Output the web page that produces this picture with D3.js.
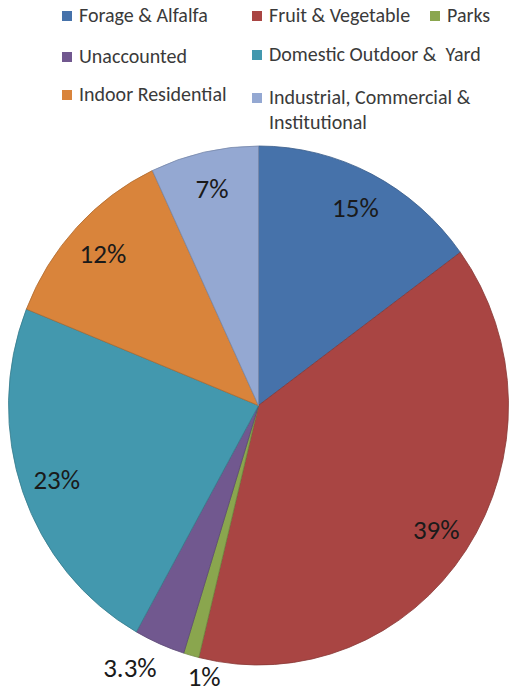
<!DOCTYPE html>
<html>
<head>
<meta charset="utf-8">
<script src="https://cdn.jsdelivr.net/npm/d3@7/dist/d3.min.js"></script>
<style>
  html, body { margin: 0; padding: 0; background: #fff; }
  svg { display: block; }
  text { font-family: Carlito, Calibri, Lato, "Open Sans", sans-serif; }
</style>
</head>
<body>
<svg id="chart" width="510" height="693"></svg>
<script>
// Water use by category (percent of total)
const categories = [
  "Forage & Alfalfa",
  "Fruit & Vegetable",
  "Parks",
  "Unaccounted",
  "Domestic Outdoor & Yard",
  "Indoor Residential",
  "Industrial, Commercial & Institutional"
];
const values = [15, 39, 1, 3.3, 23, 12, 7];
const valueLabels = ["15%", "39%", "1%", "3.3%", "23%", "12%", "7%"];
const colors = ["#4672aa", "#a94543", "#8aa64e", "#71588f", "#4398ae", "#d9843b", "#94a8d2"];

// Legend text lines (wrapped where the legend wraps)
const legendLines = [
  ["Forage & Alfalfa"],
  ["Fruit & Vegetable"],
  ["Parks"],
  ["Unaccounted"],
  ["Domestic Outdoor &\u00a0 Yard"],
  ["Indoor Residential"],
  ["Industrial, Commercial &", "Institutional"]
];

const svg = d3.select("#chart");

// ---- pie geometry ----
const cx = 258.5, cy = 405.5;
const R = 250;
const yStretch = 1.038;   // the pie is drawn slightly taller than wide

const data = categories.map((c, i) => ({ name: c, value: values[i], label: valueLabels[i], color: colors[i] }));
const pie = d3.pie().value(d => d.value).sort(null).startAngle(0).endAngle(2 * Math.PI);
const arcs = pie(data);

const arc = d3.arc().innerRadius(0).outerRadius(R);

const gPie = svg.append("g")
  .attr("transform", `translate(${cx},${cy}) scale(1,${yStretch})`);

gPie.selectAll("path")
  .data(arcs)
  .join("path")
  .attr("d", arc)
  .attr("fill", d => d.data.color)
  .attr("stroke", d => d3.color(d.data.color).darker(0.6))
  .attr("stroke-width", 0.8)
  .attr("vector-effect", "non-scaling-stroke");

// ---- value labels ----
const labelFont = 27;
const inside = d => (d.endAngle - d.startAngle) > 0.3;
const inArc = d3.arc().innerRadius(R * 0.856).outerRadius(R * 0.856);
const outArc = d3.arc().innerRadius(R * 1.1).outerRadius(R * 1.1);

const gLabels = svg.append("g");
const labelNodes = gLabels.selectAll("text")
  .data(arcs)
  .join("text")
  .attr("text-anchor", "middle")
  .attr("font-size", labelFont)
  .attr("fill", "#1a1a1a")
  .text(d => d.data.label);

const placed = [];
labelNodes.each(function (d) {
  const c = inside(d) ? inArc.centroid(d) : outArc.centroid(d);
  const w = this.getComputedTextLength();
  placed.push({ node: this, x: cx + c[0], y: cy + c[1] * yStretch, w, h: labelFont * 0.75, outside: !inside(d) });
});

// push overlapping outside labels apart horizontally
const outs = placed.filter(p => p.outside).sort((a, b) => a.x - b.x);
const gap = 31;
for (let iter = 0; iter < 10; iter++) {
  for (let i = 0; i < outs.length - 1; i++) {
    const a = outs[i], b = outs[i + 1];
    const need = (a.w + b.w) / 2 + gap;
    const dy = Math.abs(a.y - b.y);
    if (dy < (a.h + b.h) / 2 + 10 && b.x - a.x < need) {
      const push = (need - (b.x - a.x)) / 2;
      a.x -= push; b.x += push;
    }
  }
}
// y is the visual centre of the digits; convert to an alphabetic baseline,
// keeping the descent inside the canvas
placed.forEach(p => d3.select(p.node).attr("x", p.x).attr("y", Math.min(p.y + labelFont * 0.36, 686)));

// ---- legend ----
const legendFont = 20;
const colX = [62, 252, 430];
const itemCell = [
  [0, 11], [1, 11], [2, 11],
  [0, 52], [1, 50],
  [0, 90], [1, 93]
];
const gLegend = svg.append("g");
data.forEach((d, i) => {
  const [col, top] = itemCell[i];
  const x = colX[col];
  gLegend.append("rect")
    .attr("x", x).attr("y", top)
    .attr("width", 10).attr("height", 10)
    .attr("fill", d.color);
  const t = gLegend.append("text")
    .attr("x", x + 17)
    .attr("y", top + 11)
    .attr("font-size", legendFont)
    .attr("fill", "#3a3a3a");
  legendLines[i].forEach((line, j) => {
    t.append("tspan")
      .attr("x", x + 17)
      .attr("dy", j === 0 ? 0 : 25)
      .text(line);
  });
});
</script>
</body>
</html>
